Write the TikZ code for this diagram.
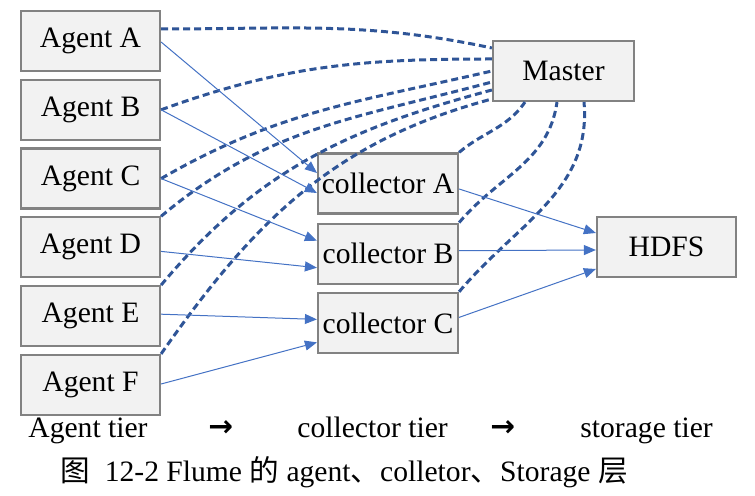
\documentclass[tikz,border=0pt]{standalone}
\usepackage{fontspec}
\setmainfont{Liberation Serif}
\newfontfamily\cjk{Noto Sans CJK SC}
\newfontfamily\arrowfont{DejaVu Sans}
\usetikzlibrary{positioning,calc,arrows.meta}
\definecolor{boxfill}{HTML}{F2F2F2}
\definecolor{boxline}{HTML}{828282}
\definecolor{flow}{HTML}{4472C4}
\definecolor{ctrl}{HTML}{2F5597}
\begin{document}
\begin{tikzpicture}[x=0.5pt, y=0.5pt, font=\fontsize{14.8}{17}\selectfont,
  box/.style={draw=boxline, fill=boxfill, line width=1.1pt, inner sep=0pt, minimum width=69.5pt, minimum height=30pt},
  flowline/.style={flow, line width=0.5pt, -{Triangle[length=6pt, width=5pt]}},
  ctrlline/.style={ctrl, line width=1.5pt, dash pattern=on 3.5pt off 2pt}]
\useasboundingbox(0,0)rectangle(755,-496);
% agent tier
\node[box](A1)at(90.5,-41){Agent A};
\node[box, below=3.3pt of A1](A2){Agent B};
\node[box, below=3.3pt of A2](A3){Agent C};
\node[box, below=3.3pt of A3](A4){Agent D};
\node[box, below=3.3pt of A4](A5){Agent E};
\node[box, below=3.3pt of A5](A6){Agent F};
% collector tier
\node[box, minimum width=70pt](C1)at(388,-183.5){collector A};
\node[box, minimum width=70pt, below=4pt of C1](C2){collector B};
\node[box, minimum width=70pt, below=3.5pt of C2](C3){collector C};
% master and storage
\node[box, minimum width=70.5pt](M)at(563.5,-71){Master};
\node[box](H)at(666.5,-247){HDFS};
%
\draw[ctrlline]($(A1.east)+(0,12)$)to[out=0, in=168]($(M.west)+(0,23)$);
\draw[ctrlline](A2.east)to[out=20, in=180]($(M.west)+(0,12)$);
\draw[ctrlline](A3.east)to[out=30, in=193](M.west);
\draw[ctrlline](A4.north east)to[out=40, in=195]($(M.west)+(0,-11)$);
\draw[ctrlline](A5.north east)to[out=50, in=195]($(M.west)+(0,-19)$);
\draw[ctrlline](A6.north east)to[out=55, in=195]($(M.west)+(0,-28)$);
\draw[ctrlline](C1.north east)to[out=40, in=235]($(M.south)+(-38.5,0)$);
\draw[ctrlline](C2.north east)to[out=50, in=262]($(M.south)+(-6.5,0)$);
\draw[ctrlline](C3.north east)to[out=50, in=275]($(M.south)+(20.5,0)$);
%
\draw[flowline]($(A1.east)+(0,-1)$)--($(C1.west)+(0,10.5)$);
\draw[flowline](A2.east)--($(C1.west)+(0,-9.5)$);
\draw[flowline](A3.east)--($(C2.west)+(0,13)$);
\draw[flowline]($(A4.east)+(0,-4)$)--($(C2.west)+(0,-14)$);
\draw[flowline]($(A5.east)+(0,2)$)--($(C3.west)+(0,3.5)$);
\draw[flowline]($(A6.east)+(0,1)$)--($(C3.west)+(0,-19.5)$);
\draw[flowline]($(C1.east)+(0,-5.5)$)--($(H.west)+(0,14)$);
\draw[flowline]($(C2.east)+(0,3)$)--($(H.west)+(0,-3)$);
\draw[flowline]($(C3.east)+(0,5.5)$)--($(H.west)+(0,-22)$);
% tier labels and caption
\node[anchor=base west, inner sep=0pt](T1)at(28,-438){Agent tier};
\node[anchor=base west, inner sep=0pt](R1)at(208,-437){\arrowfont\bfseries →};
\node[anchor=base west, inner sep=0pt](T2)at(297,-438){collector tier};
\node[anchor=base west, inner sep=0pt](R2)at(490,-437){\arrowfont\bfseries →};
\node[anchor=base west, inner sep=0pt](T3)at(580,-438){storage tier};
\node[anchor=base west, inner sep=0pt](CAP)at(60,-481){{\cjk 图}\ \ 12-2 Flume {\cjk 的} agent{\cjk 、}colletor{\cjk 、}Storage {\cjk 层}};
\end{tikzpicture}
\end{document}
